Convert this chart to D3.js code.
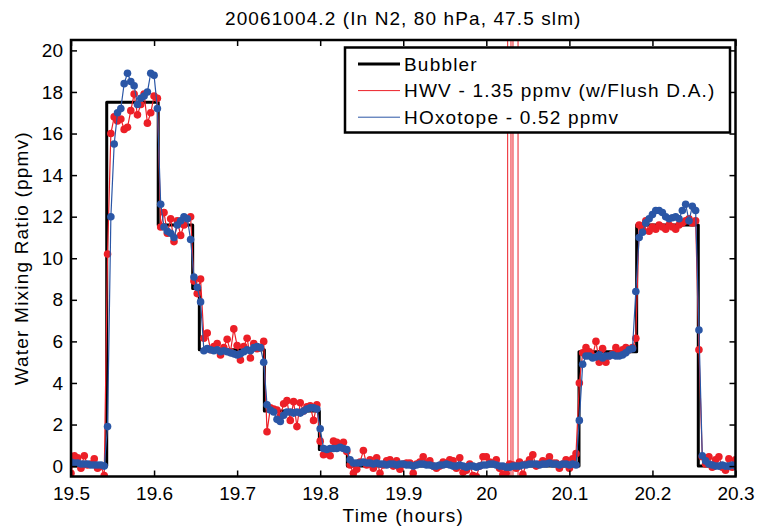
<!DOCTYPE html>
<html>
<head>
<meta charset="utf-8">
<script src="https://cdn.jsdelivr.net/npm/d3@7"></script>
<style>
  body { margin: 0; background: #fff; }
  text { font-family: "Liberation Sans", Arial, sans-serif; }
</style>
</head>
<body>
<div id="myChart"></div>
<script>
// Water mixing ratio during the 20061004.2 calibration run

const title = "20061004.2 (In N2, 80 hPa, 47.5 slm)";
const seriesNames = ["Bubbler", "HWV - 1.35 ppmv (w/Flush D.A.)", "HOxotope - 0.52 ppmv"];

// sample times (hours)
const times = [
  19.500, 19.504, 19.508, 19.512, 19.516, 19.520, 19.524, 19.528, 19.532, 19.536,
  19.540, 19.544, 19.548, 19.552, 19.556, 19.560, 19.564, 19.568, 19.572, 19.576,
  19.580, 19.584, 19.588, 19.592, 19.596, 19.600, 19.604, 19.608, 19.612, 19.616,
  19.620, 19.624, 19.628, 19.632, 19.636, 19.640, 19.644, 19.648, 19.652, 19.656,
  19.660, 19.664, 19.668, 19.672, 19.676, 19.680, 19.684, 19.688, 19.692, 19.696,
  19.700, 19.704, 19.708, 19.712, 19.716, 19.720, 19.724, 19.728, 19.732, 19.736,
  19.740, 19.744, 19.748, 19.752, 19.756, 19.760, 19.764, 19.768, 19.772, 19.776,
  19.780, 19.784, 19.788, 19.792, 19.796, 19.800, 19.804, 19.808, 19.812, 19.816,
  19.820, 19.824, 19.828, 19.832, 19.836, 19.840, 19.844, 19.848, 19.852, 19.856,
  19.860, 19.864, 19.868, 19.872, 19.876, 19.880, 19.884, 19.888, 19.892, 19.896,
  19.900, 19.904, 19.908, 19.912, 19.916, 19.920, 19.924, 19.928, 19.932, 19.936,
  19.940, 19.944, 19.948, 19.952, 19.956, 19.960, 19.964, 19.968, 19.972, 19.976,
  19.980, 19.984, 19.988, 19.992, 19.996, 20.000, 20.004, 20.008, 20.012, 20.016,
  20.020, 20.024, 20.028, 20.032, 20.036, 20.040, 20.044, 20.048, 20.052, 20.056,
  20.060, 20.064, 20.068, 20.072, 20.076, 20.080, 20.084, 20.088, 20.092, 20.096,
  20.100, 20.104, 20.108, 20.112, 20.116, 20.120, 20.124, 20.128, 20.132, 20.136,
  20.140, 20.144, 20.148, 20.152, 20.156, 20.160, 20.164, 20.168, 20.172, 20.176,
  20.180, 20.184, 20.188, 20.192, 20.196, 20.200, 20.204, 20.208, 20.212, 20.216,
  20.220, 20.224, 20.228, 20.232, 20.236, 20.240, 20.244, 20.248, 20.252, 20.256,
  20.260, 20.264, 20.268, 20.272, 20.276, 20.280, 20.284, 20.288, 20.292, 20.296,
  20.300
];

// HWV (red), ppmv
const hwv = [
  -0.35, 0.5, 0.4, -0.1, 0.5, 0.05, 0.1, 0.35, -0.1, 0.0,
  -0.45, 10.2, 16.0, 16.8, 16.6, 16.7, 16.2, 16.3, 17.1, 17.9,
  16.9, 17.4, 17.9, 16.5, 17.0, 17.8, 17.7, 11.5, 12.2, 11.2,
  11.9, 10.8, 11.8, 11.1, 11.6, 11.9, 12.0, 8.9, 8.3, 9.0,
  6.15, 6.4, 5.6, 5.75, 5.9, 5.35, 5.7, 6.1, 5.5, 6.6,
  5.8, 5.1, 5.75, 6.15, 5.2, 5.9, 5.65, 5.7, 6.0, 1.65,
  2.8, 2.75, 2.7, 2.4, 3.0, 3.15, 2.2, 3.1, 1.9, 3.05,
  2.65, 2.85, 2.9, 2.2, 2.95, 1.2, 0.55, 0.6, 0.5, 1.2,
  1.15, 1.0, 1.15, 0.7, 0.05, -0.35, -0.15, 0.2, 0.75, 0.05,
  0.3, -0.1, 0.4, -0.35, 0.05, 0.25, 0.3, 0.0, 0.25, -0.15,
  0.1, 0.15, 0.15, -0.35, 0.1, 0.2, 0.45, 0.15, 0.25, 0.0,
  -0.1, 0.0, 0.2, 0.1, 0.3, 0.25, -0.1, 0.4, -0.3, -0.2,
  0.1, -0.45, -0.5, 0.0, 0.45, 0.45, 0.2, 0.15, 0.3, -0.1,
  -0.4, -0.35, 0.1, 0.05, -0.1, 0.2, -0.4, 0.1, 0.3, 0.55,
  0.0, 0.1, 0.25, 0.2, 0.45, 0.15, 0.15, -0.1, 0.1, 0.3,
  -0.1, 0.35, 0.6, 4.0, 5.45, 5.7, 5.5, 5.3, 6.0, 5.0,
  5.65, 5.0, 5.3, 5.4, 5.7, 5.5, 5.6, 5.7, 5.6, 5.7,
  6.15, 11.6, 11.4, 11.8, 11.3, 11.5, 11.4, 11.6, 11.5, 11.4,
  11.6, 11.5, 11.4, 11.6, 11.7, 11.8, 11.9, 11.7, 11.8, 5.6,
  0.45, 0.1, 0.45, -0.05, 0.3, 0.45, -0.05, -0.2, 0.35, -0.05,
  0.3
];

// HOxotope (blue), ppmv
const hoxotope = [
  0.2, 0.15, 0.15, 0.1, 0.1, 0.1, 0.05, 0.05, 0.05, 0.05,
  0.0, 1.9, 12.0, 15.5, 17.0, 17.2, 18.4, 18.9, 18.5, 18.3,
  17.4, 17.7, 17.8, 18.0, 18.9, 18.8, 17.2, 12.6, 11.5, 11.3,
  11.2, 11.0, 11.6, 11.8, 12.0, 11.9, 10.9, 9.1, 8.6, 7.9,
  5.55, 5.65, 5.6, 5.55, 5.6, 5.5, 5.55, 5.5, 5.45, 5.4,
  5.35, 5.4, 5.5, 5.6, 5.55, 5.7, 5.75, 5.7, 5.0, 2.95,
  2.7, 2.6, 2.25, 2.15, 2.45, 2.6, 2.6, 2.55, 2.6, 2.55,
  2.65, 2.75, 2.8, 2.8, 2.75, 1.8, 0.85, 0.8, 0.85, 0.85,
  0.85, 0.9, 0.85, 0.8, 0.3, 0.15, 0.15, 0.15, 0.2, 0.15,
  0.15, 0.1, 0.15, 0.1, 0.1, 0.05, 0.1, 0.1, 0.05, 0.1,
  0.1, 0.05, 0.05, 0.0, 0.05, 0.1, 0.1, 0.05, 0.05, 0.0,
  0.0, 0.05, 0.05, 0.1, 0.05, 0.0, 0.0, 0.05, 0.0, -0.05,
  0.0, 0.0, -0.05, 0.0, 0.05, 0.05, 0.1, 0.1, 0.05, 0.0,
  0.0, -0.05, -0.05, 0.0, 0.0, 0.0, 0.05, 0.05, 0.1, 0.1,
  0.1, 0.05, 0.1, 0.1, 0.15, 0.1, 0.1, 0.05, 0.1, 0.1,
  0.05, 0.1, 0.05, 2.2, 4.9, 5.3, 5.3, 5.2, 5.25, 5.35,
  5.2, 5.3, 5.3, 5.35, 5.3, 5.3, 5.35, 5.45, 5.6, 5.65,
  8.4, 11.0, 11.25, 11.7, 11.9, 12.1, 12.3, 12.3, 12.2, 12.0,
  11.9, 11.95, 12.0, 11.9, 12.3, 12.6, 11.8, 12.5, 12.3, 6.55,
  0.5, 0.25, 0.1, 0.05, 0.0, 0.0, 0.05, 0.0, 0.0, 0.05,
  0.0
];

// Bubbler setpoint steps (time it starts, ppmv)
const bubblerTimes = [19.5, 19.543, 19.605, 19.6465, 19.6545, 19.7328, 19.799, 19.8327, 20.1116, 20.181, 20.2552, 20.3];
const bubblerValues = [0, 17.5, 11.6, 8.55, 5.6, 2.65, 0.8, 0, 5.5, 11.6, 0, 0];

// HWV samples that run off the scale
const hwvSpikeTimes = [20.0257, 20.0297, 20.0321, 20.0382];

const xTicks = [19.5, 19.6, 19.7, 19.8, 19.9, 20.0, 20.1, 20.2, 20.3];
const xTickLabels = ["19.5", "19.6", "19.7", "19.8", "19.9", "20", "20.1", "20.2", "20.3"];
const yTicks = [0, 2, 4, 6, 8, 10, 12, 14, 16, 18, 20];

var width = 759,
    height = 529;
var margin = {top: 40, right: 23.5, bottom: 52.5, left: 71};

var red = "#ec1f27",
    blue = "#2a56a6";

var svg = d3.select("#myChart")
  .append("svg")
    .attr("width", width)
    .attr("height", height);

var x = d3.scaleLinear()
  .domain([19.5, 20.3])
  .range([margin.left, width - margin.right]);

var y = d3.scaleLinear()
  .domain([-0.5, 20.5])
  .range([height - margin.bottom, margin.top]);

svg.append("clipPath")
    .attr("id", "plotclip")
  .append("rect")
    .attr("x", x.range()[0])
    .attr("y", y.range()[1])
    .attr("width", x.range()[1] - x.range()[0])
    .attr("height", y.range()[0] - y.range()[1]);

var plot = svg.append("g").attr("clip-path", "url(#plotclip)");

// bubbler as a step line
var bubbler = d3.zip(bubblerTimes, bubblerValues);
plot.append("path")
  .datum(bubbler)
  .attr("fill", "none")
  .attr("stroke", "black")
  .attr("stroke-width", 3)
  .attr("stroke-linejoin", "round")
  .attr("d", d3.line()
    .x(function(d) { return x(d[0]); })
    .y(function(d) { return y(d[1]); })
    .curve(d3.curveStepAfter));

// off-scale HWV samples
plot.selectAll(".spike")
  .data(hwvSpikeTimes)
  .enter()
  .append("line")
    .attr("x1", function(d) { return x(d); })
    .attr("x2", function(d) { return x(d); })
    .attr("y1", y.range()[0])
    .attr("y2", y.range()[1])
    .attr("stroke", red)
    .attr("stroke-width", 1);

var line = d3.line()
  .x(function(d) { return x(d[0]); })
  .y(function(d) { return y(d[1]); });

function drawSeries(values, color) {
  var pts = d3.zip(times, values);
  plot.append("path")
    .datum(pts)
    .attr("fill", "none")
    .attr("stroke", color)
    .attr("stroke-width", 1.2)
    .attr("d", line);
  plot.append("g")
    .selectAll("circle")
    .data(pts)
    .enter()
    .append("circle")
      .attr("cx", function(d) { return x(d[0]); })
      .attr("cy", function(d) { return y(d[1]); })
      .attr("r", 3.8)
      .attr("fill", color);
}

drawSeries(hwv, red);
drawSeries(hoxotope, blue);

// axes, MATLAB style: ticks inside on all four sides
function styleAxis(g) {
  g.select(".domain").remove();
  g.selectAll(".tick line").attr("stroke", "black").attr("stroke-width", 1.5);
  g.selectAll("text")
    .attr("fill", "black")
    .attr("font-size", 19)
    .attr("font-family", "'Liberation Sans', Arial, sans-serif");
}

svg.append("g")
  .attr("transform", "translate(0," + y.range()[0] + ")")
  .call(d3.axisBottom(x).tickValues(xTicks)
    .tickFormat(function(d, i) { return xTickLabels[i]; })
    .tickSize(-6).tickPadding(10))
  .call(styleAxis);

svg.append("g")
  .attr("transform", "translate(0," + y.range()[1] + ")")
  .call(d3.axisTop(x).tickValues(xTicks).tickFormat("").tickSize(-6))
  .call(styleAxis);

svg.append("g")
  .attr("transform", "translate(" + x.range()[0] + ",0)")
  .call(d3.axisLeft(y).tickValues(yTicks).tickSize(-6).tickPadding(8))
  .call(styleAxis);

svg.append("g")
  .attr("transform", "translate(" + x.range()[1] + ",0)")
  .call(d3.axisRight(y).tickValues(yTicks).tickFormat("").tickSize(-6))
  .call(styleAxis);

svg.append("rect")
  .attr("x", x.range()[0])
  .attr("y", y.range()[1])
  .attr("width", x.range()[1] - x.range()[0])
  .attr("height", y.range()[0] - y.range()[1])
  .attr("fill", "none")
  .attr("stroke", "black")
  .attr("stroke-width", 2.5);

// title and axis labels
svg.append("text")
  .attr("x", (x.range()[0] + x.range()[1]) / 2)
  .attr("y", 25)
  .attr("text-anchor", "middle")
  .attr("font-size", 19)
  .attr("letter-spacing", 1.1)
  .text(title);

svg.append("text")
  .attr("x", (x.range()[0] + x.range()[1]) / 2)
  .attr("y", 522)
  .attr("text-anchor", "middle")
  .attr("font-size", 19)
  .attr("letter-spacing", 1.2)
  .text("Time (hours)");

svg.append("text")
  .attr("transform", "translate(28," + (y.range()[0] + y.range()[1]) / 2 + ") rotate(-90)")
  .attr("text-anchor", "middle")
  .attr("font-size", 19)
  .attr("letter-spacing", 1.2)
  .text("Water Mixing Ratio (ppmv)");

// legend
var legend = svg.append("g");
legend.append("rect")
  .attr("x", 345)
  .attr("y", 47.5)
  .attr("width", 385)
  .attr("height", 85)
  .attr("fill", "white")
  .attr("stroke", "black")
  .attr("stroke-width", 2.5);

var legendColors = ["black", red, blue];
var legendWidths = [3, 1, 1];

seriesNames.forEach(function(name, i) {
  var ly = 64 + i * 26.6;
  legend.append("line")
    .attr("x1", 358).attr("x2", 400)
    .attr("y1", ly).attr("y2", ly)
    .attr("stroke", legendColors[i])
    .attr("stroke-width", legendWidths[i]);
  legend.append("text")
    .attr("x", 404)
    .attr("y", ly + 6.7)
    .attr("font-size", 19)
    .attr("letter-spacing", 1.2)
    .text(name);
});
</script>
</body>
</html>
